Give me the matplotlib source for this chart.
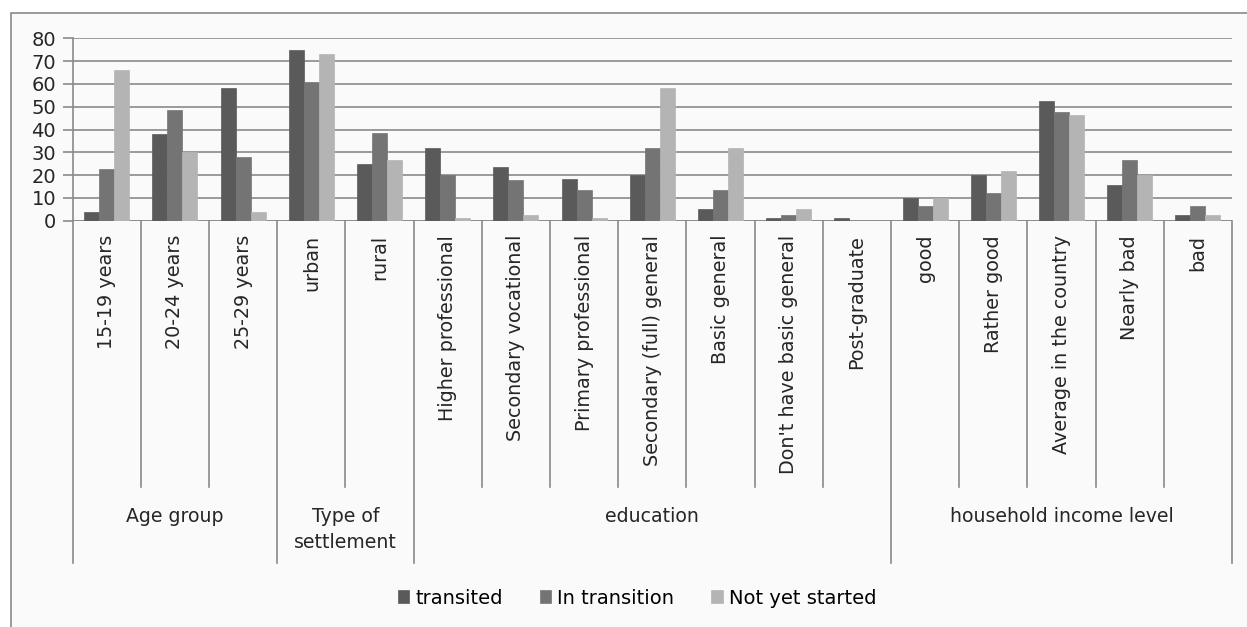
import matplotlib
matplotlib.use("Agg")
import matplotlib.pyplot as plt
import matplotlib.transforms as mtransforms
from matplotlib.patches import Rectangle
import numpy as np

categories = ["15-19 years", "20-24 years", "25-29 years", "urban", "rural",
              "Higher professional", "Secondary vocational", "Primary professional",
              "Secondary (full) general", "Basic general", "Don't have basic general",
              "Post-graduate", "good", "Rather good", "Average in the country",
              "Nearly bad", "bad"]
groups = ["Age group", "Type of\nsettlement", "education", "household income level"]
group_sizes = [3, 2, 7, 5]

transited = [4, 38, 58, 75, 25, 32, 23.5, 18.5, 20, 5, 1, 1, 10, 20, 52.5, 15.5, 2.5]
in_transition = [22.5, 48.5, 28, 61, 38.5, 20, 18, 13.5, 32, 13.5, 2.5, 0, 6.5, 12, 47.5, 26.5, 6.5]
not_started = [66, 30, 4, 73, 26.5, 1, 2.5, 1, 58, 32, 5, 0, 10, 22, 46.5, 20, 2.5]
series_names = ["transited", "In transition", "Not yet started"]
series_colors = ["#5a5a5a", "#747474", "#b4b4b4"]
yticks = [0, 10, 20, 30, 40, 50, 60, 70, 80]

W, H = 1247, 627
fig = plt.figure(figsize=(W / 100, H / 100), dpi=100, facecolor="white")

# outer chart border
fig.patches.append(Rectangle((11 / W, -0.2), 1.2, 1.2 - 13 / H, transform=fig.transFigure,
                             facecolor="#fafafa", edgecolor="#8a8a8a", lw=1.2, zorder=-5))

ax_l, ax_r = 72.7 / W, 1232 / W
ax_b, ax_t = 1 - 220.7 / H, 1 - 38.3 / H
ax = fig.add_axes([ax_l, ax_b, ax_r - ax_l, ax_t - ax_b])
ax.set_facecolor("none")

n = len(categories)
x = np.arange(n) + 0.5
bw = 0.22
for i, (vals, name, col) in enumerate(zip([transited, in_transition, not_started], series_names, series_colors)):
    ax.bar(x + (i - 1) * bw, vals, width=bw, color=col, edgecolor=col, lw=0.5, label=name, zorder=3)

FONT = "DejaVu Sans"
TC = "#262626"
ax.set_xlim(0, n)
ax.set_ylim(0, 80)
ax.set_yticks(yticks)
ax.set_yticklabels([str(v) for v in yticks], fontsize=14, family=FONT, color=TC)
ax.tick_params(axis="y", length=7, width=1.2, color="#8a8a8a", pad=5)
ax.set_xticks([])
ax.grid(axis="y", color="#8a8a8a", lw=1.2, zorder=1)
for s in ["top", "right", "bottom"]:
    ax.spines[s].set_visible(False)
ax.spines["left"].set_color("#8a8a8a")
ax.spines["left"].set_linewidth(1.2)
ax.axhline(0, color="#8a8a8a", lw=1.2, zorder=2)

trans = mtransforms.blended_transform_factory(ax.transData, fig.transFigure)
y0 = 1 - 220.7 / H
y_inner = 1 - 487 / H
y_group = 1 - 563 / H
bounds = np.cumsum([0] + group_sizes)
for b in range(n + 1):
    yb = y_group if b in bounds else y_inner
    ax.plot([b, b], [y0, yb], transform=trans, color="#8a8a8a", lw=1.2, clip_on=False)

for xi, lab in zip(x, categories):
    ax.text(xi, 1 - 235 / H, lab, transform=trans, rotation=90, ha="center", va="top",
            fontsize=13.8, family=FONT, color=TC)

for g, a, b in zip(groups, bounds[:-1], bounds[1:]):
    ax.text((a + b) / 2, 1 - 507 / H, g, transform=trans, ha="center", va="top",
            fontsize=13.6, family=FONT, color=TC, linespacing=1.5)

fig.legend(loc="center", bbox_to_anchor=(637 / W, 1 - 598 / H), ncol=3, frameon=False,
           prop={"family": FONT, "size": 14}, handlelength=0.6, handleheight=0.6,
           handletextpad=0.3, columnspacing=1.9)

fig.savefig("out.png", dpi=100, facecolor="white")
